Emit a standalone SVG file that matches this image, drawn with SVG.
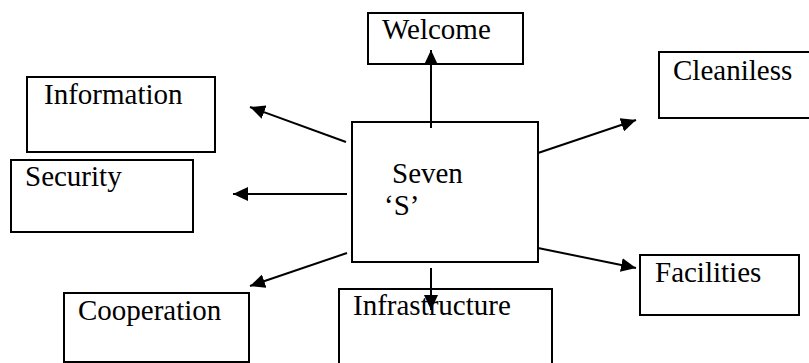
<svg xmlns="http://www.w3.org/2000/svg" width="809" height="363" viewBox="0 0 809 363">
<style>
.box{fill:#fff;stroke:#000;stroke-width:2}
text{font-family:'Liberation Serif','Times New Roman',Times,serif;font-size:29px;fill:#000}
.con{stroke:#000;stroke-width:2;fill:none;marker-end:url(#ah)}
</style>
<defs>
<marker id="ah" markerUnits="userSpaceOnUse" markerWidth="16" markerHeight="14" viewBox="0 0 16 14" refX="15" refY="7" orient="auto">
<path d="M0,0 L15,7 L0,14 Z" fill="#000"/>
</marker>
</defs>
<rect width="809" height="363" fill="#fff"/>
<g id="welcome"><rect class="box" x="368" y="13" width="155" height="51"/><text x="382" y="39">Welcome</text></g>
<g id="cleaniless"><rect class="box" x="659" y="52" width="160" height="66"/><text x="673" y="80">Cleaniless</text></g>
<g id="information"><rect class="box" x="27" y="77" width="188" height="75"/><text x="44" y="104">Information</text></g>
<g id="security"><rect class="box" x="11" y="160" width="182" height="72"/><text x="25" y="186">Security</text></g>
<g id="seven-s"><rect class="box" x="352" y="122" width="186" height="140"/><text x="392" y="183">Seven</text><text x="384" y="215">‘S’</text></g>
<g id="cooperation"><rect class="box" x="64" y="293" width="185" height="69"/><text x="78" y="320">Cooperation</text></g>
<g id="infrastructure"><rect class="box" x="339" y="289" width="213" height="90"/><text x="353" y="315">Infrastructure</text></g>
<g id="facilities"><rect class="box" x="640" y="255" width="159" height="60"/><text x="655" y="282">Facilities</text></g>
<g id="connectors">
<line class="con" x1="431" y1="128" x2="431" y2="50"/>
<line class="con" x1="346" y1="142" x2="250" y2="107"/>
<line class="con" x1="347" y1="194" x2="233" y2="194"/>
<line class="con" x1="347" y1="253" x2="250" y2="286"/>
<line class="con" x1="431" y1="268" x2="431" y2="310"/>
<line class="con" x1="538" y1="153" x2="636" y2="120"/>
<line class="con" x1="538" y1="248" x2="636" y2="268"/>
</g>
</svg>
